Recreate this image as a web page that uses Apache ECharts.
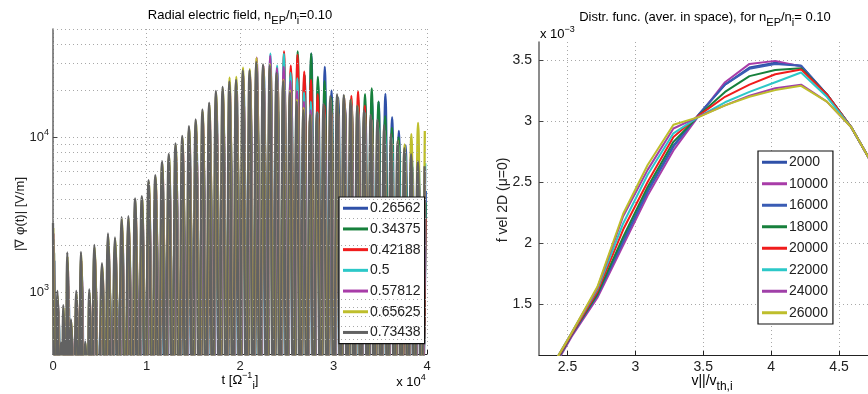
<!DOCTYPE html>
<html>
<head>
<meta charset="utf-8">
<script src="https://cdn.jsdelivr.net/npm/echarts@6/dist/echarts.min.js"></script>
<style>
  html, body { margin: 0; padding: 0; background: #fff; }
  #chart { width: 868px; height: 394px; }
</style>
</head>
<body>
<div id="chart"></div>
<script>
// ---- left panel: radial electric field, peak of each oscillation lobe ----
const tPeak = [0, 470, 855, 1100, 1530, 1920, 2490, 2990, 3450, 3880, 4420, 5240, 5880, 6630,
  7340, 8060, 8780, 9500, 10220, 10940, 11660, 12380, 13100, 13820, 14540, 15260, 15980, 16700,
  17420, 18140, 18860, 19580, 20300, 21020, 21740, 22460, 23180, 23900, 24620, 25340, 26060,
  26780, 27500, 28220, 28940, 29660, 30380, 31100, 31820, 32540, 33260, 33980, 34700, 35420,
  36140, 36860, 37580, 38300, 39020, 39740];

const peaks026562 = [1600, 700, 340, 520, 1000, 450, 600, 1000, 340, 600, 1000, 800, 1200, 1100,
  980, 990, 1290, 1340, 1700, 1820, 2250, 2500, 2930, 3260, 3780, 4180, 4850, 5360, 6370, 6770,
  7800, 8000, 9800, 10000, 12500, 12800, 15500, 16000, 20000, 20500, 26000, 25000, 34700, 22000,
  28500, 20000, 18000, 16000, 15000, 15500, 16500, 17500, 17000, 19100, 13500, 11000, 8900, 6500, 5000, 4500];
const peaks034375 = [1800, 750, 360, 560, 1100, 480, 650, 1150, 360, 640, 1150, 900, 1400, 1300,
  1380, 1400, 1810, 1880, 2390, 2570, 3160, 3520, 4120, 4590, 5310, 5880, 6820, 7530, 8960, 9520,
  11000, 11500, 14000, 14500, 17500, 18000, 22000, 22500, 28500, 27000, 35800, 25500, 34700, 24500,
  23000, 18000, 16000, 15500, 16500, 17500, 19000, 20700, 17000, 13700, 11500, 10000, 7000, 5000, 4000, 3800];
const peaks042188 = [2000, 800, 380, 600, 1200, 520, 700, 1300, 380, 700, 1300, 1000, 1550, 1450,
  1770, 1800, 2340, 2420, 3070, 3300, 4080, 4540, 5300, 5900, 6840, 7570, 8790, 9700, 11500, 12300,
  14000, 14500, 17500, 18500, 22500, 22000, 28000, 26000, 35800, 29000, 34000, 26500, 23500, 19000,
  16000, 14500, 15000, 16500, 18500, 19800, 16000, 13000, 9700, 6900, 5500, 4500, 4000, 3500, 3200, 3000];
const peaks05 = [2200, 850, 400, 650, 1350, 560, 800, 1450, 400, 800, 1500, 1150, 1800, 1700,
  2200, 2230, 2900, 3000, 3800, 4100, 5060, 5640, 6590, 7340, 8500, 9400, 10900, 12000, 14300, 15200,
  17500, 18500, 22000, 23000, 28000, 27500, 34700, 29000, 34500, 26000, 24000, 19500, 17000, 14500,
  13500, 14000, 15500, 16500, 16800, 15500, 14500, 13000, 12000, 11000, 10000, 9000, 8000, 7500, 7000, 6800];
const peaks057812 = [2400, 900, 420, 720, 1550, 600, 900, 1600, 430, 920, 1750, 1350, 2050, 1950,
  2600, 2640, 3430, 3550, 4500, 4850, 5980, 6650, 7780, 8670, 10000, 11100, 12900, 14200, 16900, 18000,
  20500, 21500, 25000, 25500, 32700, 29000, 33500, 28000, 28500, 23000, 20000, 17000, 15000, 14000,
  14500, 16000, 17500, 18000, 17000, 15500, 14000, 13000, 11500, 10000, 9000, 8000, 7500, 7000, 6500, 6200];
const peaks065625 = [2600, 950, 450, 800, 1700, 650, 980, 1750, 470, 1000, 1950, 1500, 2300, 2200,
  2970, 3000, 3900, 4050, 5150, 5550, 6800, 7600, 8900, 9900, 11400, 12700, 14700, 16200, 19300, 20500,
  24300, 24500, 28200, 27500, 32400, 29000, 29500, 25500, 23500, 20000, 17500, 15500, 14000, 14000,
  15500, 17500, 18500, 18500, 17500, 16000, 14500, 13500, 12500, 11000, 10000, 9500, 9000, 10500, 12400, 11000];
const peaks073438 = [2800, 1020, 475, 825, 1810, 670, 1020, 1820, 480, 1045, 2020, 1540, 2400, 2260,
  3060, 3100, 4030, 4180, 5300, 5700, 7030, 7830, 9150, 10200, 11800, 13060, 15150, 16740, 19900, 21150,
  22900, 23500, 27000, 27000, 30500, 29500, 29000, 26000, 23000, 19500, 17000, 15000, 14000, 14500,
  16500, 18500, 19000, 18800, 17500, 16000, 15000, 14000, 13000, 12000, 10500, 9500, 8500, 7800, 7000, 6500];

// small lag of each trace behind the last one (colour fringes on the lobe flanks)
const lagT = [130, 110, 90, 70, 50, 25, 0];
// the field dips close to zero between lobes (under the axis floor)
const troughLevel = 150;

const leftNames = ['0.26562', '0.34375', '0.42188', '0.5', '0.57812', '0.65625', '0.73438'];
const leftPeaks = [peaks026562, peaks034375, peaks042188, peaks05, peaks057812, peaks065625, peaks073438];
const leftColors = ['#2f50a8', '#17803c', '#f01c1c', '#2cc8c8', '#a83ca8', '#bebe2c', '#626262'];

const leftMinorGrid = [500, 600, 700, 800, 900, 2000, 3000, 4000, 5000, 6000, 7000, 8000, 9000,
  20000, 30000, 40000, 50000];
const leftMajorY = [1000, 10000];

// ---- right panel: distribution function, values in units of 1e-3 ----
const vPar = [2.34, 2.53, 2.72, 2.91, 3.09, 3.28, 3.47, 3.66, 3.84, 4.03, 4.22, 4.41, 4.59, 4.78];
const f2000  = [0.88, 1.24, 1.57, 2.02, 2.43, 2.80, 3.06, 3.30, 3.44, 3.48, 3.455, 3.22, 2.95, 2.58];
const f10000 = [0.86, 1.23, 1.55, 1.98, 2.39, 2.76, 3.05, 3.32, 3.47, 3.495, 3.45, 3.22, 2.95, 2.58];
const f16000 = [0.87, 1.24, 1.57, 2.01, 2.42, 2.79, 3.06, 3.30, 3.43, 3.47, 3.455, 3.22, 2.95, 2.58];
const f18000 = [0.88, 1.25, 1.58, 2.05, 2.46, 2.83, 3.05, 3.24, 3.37, 3.42, 3.435, 3.22, 2.95, 2.58];
const f20000 = [0.89, 1.25, 1.60, 2.11, 2.50, 2.87, 3.05, 3.20, 3.30, 3.385, 3.425, 3.22, 2.95, 2.58];
const f22000 = [0.90, 1.26, 1.62, 2.16, 2.56, 2.90, 3.04, 3.155, 3.24, 3.32, 3.40, 3.20, 2.95, 2.58];
const f24000 = [0.90, 1.26, 1.63, 2.22, 2.60, 2.94, 3.04, 3.13, 3.21, 3.27, 3.30, 3.16, 2.95, 2.58];
const f26000 = [0.90, 1.26, 1.64, 2.24, 2.64, 2.97, 3.035, 3.13, 3.20, 3.255, 3.29, 3.16, 2.95, 2.58];

const rightNames = ['2000', '10000', '16000', '18000', '20000', '22000', '24000', '26000'];
const rightData = [f2000, f10000, f16000, f18000, f20000, f22000, f24000, f26000];
const rightColors = ['#2f50a8', '#a83ca8', '#3a5cb4', '#17803c', '#f01c1c', '#2cc8c8', '#a040a8', '#bebe2c'];

const rightXTicks = [2.5, 3, 3.5, 4, 4.5];
const rightYTicks = [1.5, 2, 2.5, 3, 3.5];

const FONT = '"Liberation Sans", Arial, sans-serif';
const dotted = { color: '#a8a8a8', width: 1, type: [1, 3] };

// peak, dip, peak, dip ... for one trace
function lobes(peaks, lag) {
  const out = [];
  for (let k = 0; k < tPeak.length; k++) {
    out.push([tPeak[k] + lag, peaks[k]]);
    if (k < tPeak.length - 1) out.push([(tPeak[k] + tPeak[k + 1]) / 2 + lag, troughLevel]);
  }
  return out;
}

function richText(size) {
  return {
    n: { fontSize: size, fontFamily: FONT, color: '#222' },
    s: { fontSize: size - 2, fontFamily: FONT, color: '#222', padding: [11, 0, 0, 0] },
    p: { fontSize: size - 4, fontFamily: FONT, color: '#222', padding: [0, 0, 9, 0] }
  };
}

const chart = echarts.init(document.getElementById('chart'));

const series = [];
// minor log grid of left panel
series.push({
  type: 'line', xAxisIndex: 0, yAxisIndex: 0, data: [], z: 1, silent: true,
  markLine: {
    silent: true, symbol: 'none', label: { show: false }, animation: false,
    lineStyle: dotted,
    data: leftMinorGrid.map(v => ({ yAxis: v }))
  }
});
leftNames.forEach((name, i) => {
  series.push({
    name: name, type: 'line', xAxisIndex: 0, yAxisIndex: 0,
    data: lobes(leftPeaks[i], lagT[i]), showSymbol: false, smooth: 0.5, z: 2,
    lineStyle: { width: 2.3, color: leftColors[i] }, itemStyle: { color: leftColors[i] }
  });
});
rightNames.forEach((name, i) => {
  series.push({
    name: name, type: 'line', xAxisIndex: 1, yAxisIndex: 1,
    data: vPar.map((v, k) => [v, rightData[i][k]]), showSymbol: false, z: 2,
    lineStyle: { width: 2, color: rightColors[i] }, itemStyle: { color: rightColors[i] }
  });
});

const option = {
  animation: false,
  backgroundColor: '#fff',
  textStyle: { fontFamily: FONT },
  grid: [
    { left: 53, top: 29, width: 374, height: 325 },
    { left: 539, top: 42, width: 329, height: 313 }
  ],
  xAxis: [
    {
      gridIndex: 0, type: 'value', min: 0, max: 40000, interval: 10000,
      axisLine: { lineStyle: { color: '#222', width: 1.2 } },
      axisTick: { inside: true, length: 4, lineStyle: { color: '#222' } },
      axisLabel: { color: '#222', fontSize: 13, margin: 6, formatter: v => String(v / 10000) },
      splitLine: { show: true, lineStyle: dotted }
    },
    {
      gridIndex: 1, type: 'value', min: 2.29, max: 4.713,
      axisLine: { lineStyle: { color: '#222', width: 1.2 } },
      axisTick: { inside: true, length: 4, customValues: rightXTicks, lineStyle: { color: '#222' } },
      axisLabel: { color: '#222', fontSize: 14, margin: 5, customValues: rightXTicks },
      splitLine: { show: true, lineStyle: dotted }
    }
  ],
  yAxis: [
    {
      gridIndex: 0, type: 'log', logBase: 10, min: 400, max: 50000,
      axisLine: { show: true, lineStyle: { color: '#666', width: 1.5 } },
      axisTick: { show: true, inside: true, length: 4, customValues: leftMajorY, lineStyle: { color: '#444' } },
      axisLabel: {
        color: '#222', margin: 4, customValues: leftMajorY,
        formatter: v => '{n|10}{p|' + Math.round(Math.log10(v)) + '}',
        rich: richText(13)
      },
      splitLine: { show: true, lineStyle: dotted }
    },
    {
      gridIndex: 1, type: 'value', min: 1.08, max: 3.65,
      axisLine: { show: true, lineStyle: { color: '#666', width: 1.5 } },
      axisTick: { show: true, inside: true, length: 4, customValues: rightYTicks, lineStyle: { color: '#444' } },
      axisLabel: { color: '#222', fontSize: 14, margin: 7, customValues: rightYTicks },
      splitLine: { show: true, lineStyle: dotted }
    }
  ],
  legend: [
    {
      data: leftNames, orient: 'vertical', left: 339, top: 197,
      icon: 'rect', itemWidth: 25, itemHeight: 3, itemGap: 6.2,
      padding: [4, 4, 4, 4], borderColor: '#111', borderWidth: 1.2, backgroundColor: '#fff',
      textStyle: { fontSize: 14, lineHeight: 14.5, color: '#222', fontFamily: FONT, padding: [0, 0, 0, -3] },
      selectedMode: false
    },
    {
      data: rightNames, orient: 'vertical', left: 758, top: 151,
      icon: 'rect', itemWidth: 25, itemHeight: 3, itemGap: 7,
      padding: [4, 5, 4, 4], borderColor: '#111', borderWidth: 1.2, backgroundColor: '#fff',
      textStyle: { fontSize: 14, lineHeight: 14.5, color: '#222', fontFamily: FONT, padding: [0, 0, 0, -3] },
      selectedMode: false
    }
  ],
  graphic: [
    {
      type: 'text', x: 240, y: 15, z: 10,
      style: { text: '{n|Radial electric field, n}{s|EP}{n|/n}{s|i}{n|=0.10}', rich: richText(13), align: 'center', verticalAlign: 'middle' }
    },
    {
      type: 'text', x: 705, y: 17, z: 10,
      style: { text: '{n|Distr. func. (aver. in space), for n}{s|EP}{n|/n}{s|i}{n|= 0.10}', rich: richText(13), align: 'center', verticalAlign: 'middle' }
    },
    {
      type: 'text', x: 540, y: 34, z: 9,
      style: { text: '{n|x 10}{p|−3}', rich: richText(13), align: 'left', verticalAlign: 'middle' }
    },
    {
      type: 'text', x: 20, y: 214, rotation: Math.PI / 2,
      style: { text: '|∇ φ(t)| [V/m]', fontSize: 13, fontFamily: FONT, fill: '#222', align: 'center', verticalAlign: 'middle' }
    },
    {
      type: 'text', x: 503, y: 200, rotation: Math.PI / 2,
      style: { text: 'f vel 2D (μ=0)', fontSize: 14, fontFamily: FONT, fill: '#222', align: 'center', verticalAlign: 'middle' }
    },
    {
      type: 'text', x: 240, y: 380,
      style: { text: '{n|t [Ω}{p|−1}{s|i}{n|]}', rich: richText(13), align: 'center', verticalAlign: 'middle' }
    },
    {
      type: 'text', x: 411, y: 382,
      style: { text: '{n|x 10}{p|4}', rich: richText(13), align: 'center', verticalAlign: 'middle' }
    },
    {
      type: 'text', x: 712, y: 381,
      style: { text: '{n|v||/v}{s|th,i}', rich: richText(14), align: 'center', verticalAlign: 'middle' }
    }
  ],
  series: series
};

chart.setOption(option);
</script>
</body>
</html>
